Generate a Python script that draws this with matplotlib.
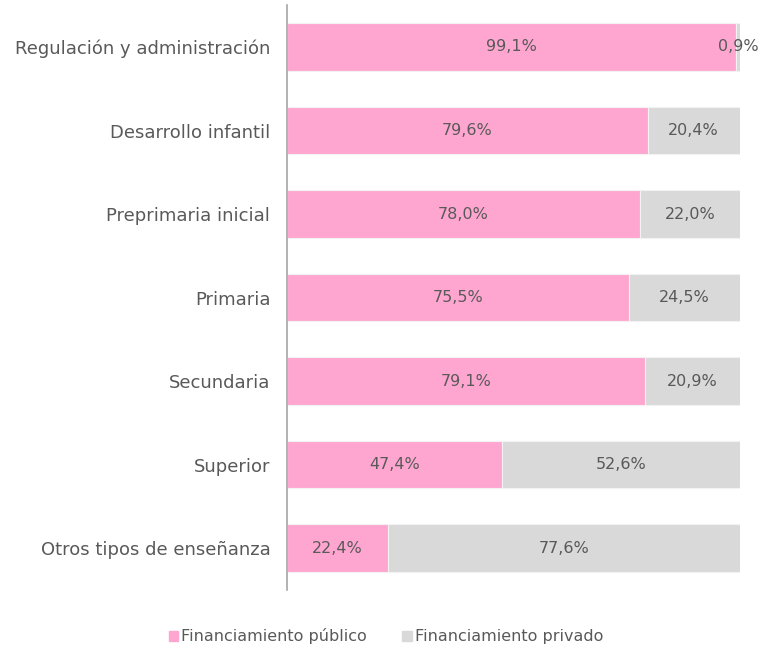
import matplotlib
matplotlib.use("Agg")
import matplotlib.pyplot as plt
from matplotlib.patches import Patch

categorias = [
    "Regulación y administración",
    "Desarrollo infantil",
    "Preprimaria inicial",
    "Primaria",
    "Secundaria",
    "Superior",
    "Otros tipos de enseñanza",
]
publico = [99.1, 79.6, 78.0, 75.5, 79.1, 47.4, 22.4]
privado = [0.9, 20.4, 22.0, 24.5, 20.9, 52.6, 77.6]
series = ["Financiamiento público", "Financiamiento privado"]

c_pub = "#FFA6D0"
c_priv = "#D9D9D9"
c_txt = "#595959"

plt.rcParams["font.family"] = ["DejaVu Sans"]

fig = plt.figure(figsize=(7.6, 6.48), dpi=100)
ax = fig.add_axes([0.3776, 0.0895, 0.596, 0.9025])

y = list(range(len(categorias)))
ax.barh(y, publico, height=0.57, color=c_pub, edgecolor="#F2F2F2", linewidth=0.8)
ax.barh(y, privado, left=publico, height=0.57, color=c_priv, edgecolor="#F2F2F2", linewidth=0.8)

def fmt(v):
    return f"{v:.1f}%".replace(".", ",")

for i in y:
    ax.text(publico[i] / 2, i, fmt(publico[i]), ha="center", va="center",
            color=c_txt, fontsize=11.5)
    ax.text(publico[i] + privado[i] / 2, i, fmt(privado[i]), ha="center", va="center",
            color=c_txt, fontsize=11.5)

ax.set_xlim(0, 100)
ax.set_ylim(len(categorias) - 0.5, -0.5)
ax.set_yticks(y)
ax.set_yticklabels(categorias, fontsize=13, color=c_txt)
ax.tick_params(axis="y", length=0, pad=12)
ax.set_xticks([])
for s in ["top", "right", "bottom"]:
    ax.spines[s].set_visible(False)
ax.spines["left"].set_color("#A6A6A6")
ax.spines["left"].set_linewidth(1.2)

handles = [Patch(color=c_pub), Patch(color=c_priv)]
fig.legend(handles, series, loc="center", bbox_to_anchor=(0.508, 0.018), ncol=2,
           frameon=False, fontsize=11.5, handlelength=0.6, handleheight=0.6,
           handletextpad=0.2, columnspacing=2.2, labelcolor=c_txt)

fig.savefig("out.png", dpi=100)
